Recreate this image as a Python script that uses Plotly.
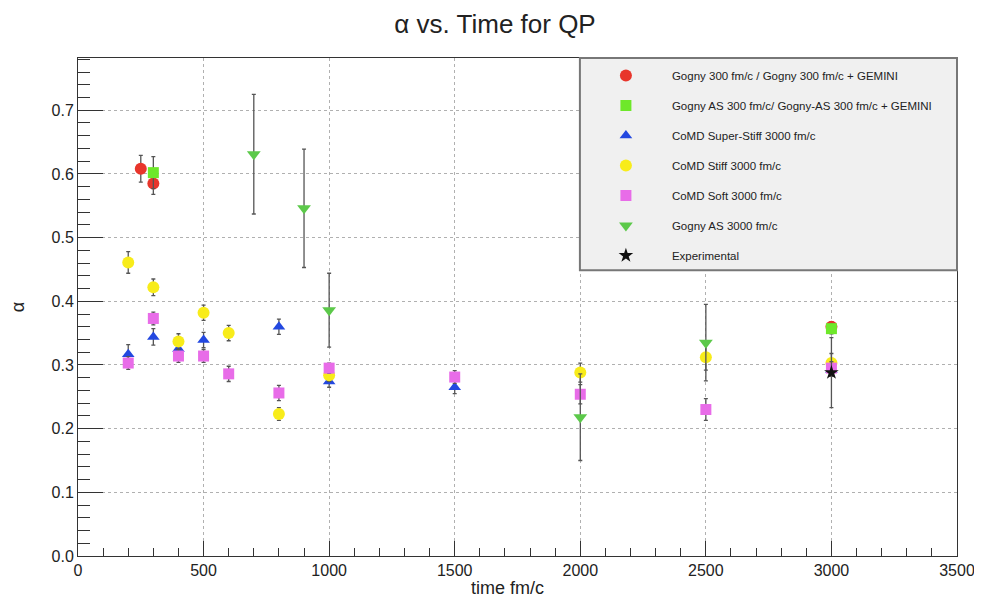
import plotly.graph_objects as go

# ---- data ----
red_name = "Gogny 300 fm/c / Gogny 300 fm/c + GEMINI"
red_x = [250, 300, 3000]
red_y = [0.608, 0.585, 0.360]
red_e = [0.021, 0.017, 0.008]

gsq_name = "Gogny AS 300 fm/c/ Gogny-AS 300 fm/c + GEMINI"
gsq_x = [300, 3000]
gsq_y = [0.602, 0.357]
gsq_e = [0.025, 0.008]

blue_name = "CoMD Super-Stiff 3000 fm/c"
blue_x = [200, 300, 400, 500, 800, 1000, 1500, 3000]
blue_y = [0.317, 0.344, 0.325, 0.339, 0.360, 0.274, 0.265, 0.292]
blue_e = [0.015, 0.013, 0.010, 0.012, 0.012, 0.009, 0.010, 0.010]

yel_name = "CoMD Stiff 3000 fm/c"
yel_x = [200, 300, 400, 500, 600, 800, 1000, 2000, 2500, 3000]
yel_y = [0.461, 0.422, 0.337, 0.382, 0.350, 0.223, 0.284, 0.288, 0.312, 0.303]
yel_e = [0.017, 0.013, 0.012, 0.012, 0.012, 0.010, 0.010, 0.015, 0.020, 0.015]

pink_name = "CoMD Soft 3000 fm/c"
pink_x = [200, 300, 400, 500, 600, 800, 1000, 1500, 2000, 2500, 3000]
pink_y = [0.303, 0.373, 0.314, 0.314, 0.286, 0.256, 0.295, 0.281, 0.254, 0.230, 0.295]
pink_e = [0.010, 0.010, 0.010, 0.010, 0.012, 0.012, 0.008, 0.010, 0.015, 0.017, 0.010]

gdn_name = "Gogny AS 3000 fm/c"
gdn_x = [700, 900, 1000, 2000, 2500]
gdn_y = [0.631, 0.546, 0.386, 0.218, 0.335]
gdn_e = [0.094, 0.093, 0.058, 0.068, 0.060]

exp_name = "Experimental"
exp_x = [3000]
exp_y = [0.288]
exp_e = [0.055]

title = "α vs. Time for QP"
x_title = "time fm/c"
y_title = "α"

series = [
    (red_name, red_x, red_y, red_e, "circle", "#e8352b", 12),
    (gsq_name, gsq_x, gsq_y, gsq_e, "square", "#6ee82a", 11),
    (blue_name, blue_x, blue_y, blue_e, "triangle-up", "#2348e0", 11),
    (yel_name, yel_x, yel_y, yel_e, "circle", "#f8ec1a", 12),
    (pink_name, pink_x, pink_y, pink_e, "square", "#e86ce8", 11),
    (gdn_name, gdn_x, gdn_y, gdn_e, "triangle-down", "#5cc94a", 12),
    (exp_name, exp_x, exp_y, exp_e, "star", "#111111", 11),
]

fig = go.Figure()
for i, (name, xs, ys, es, sym, col, sz) in enumerate(series):
    fig.add_trace(go.Scatter(
        x=xs, y=ys, mode="markers", name=name, legendgroup=f"g{i}",
        marker=dict(symbol=sym, color=col, size=sz, line=dict(width=0)),
        error_y=dict(type="data", array=es, visible=True, color="#555555",
                     thickness=1.3, width=2),
    ))

font_family = "Liberation Sans, Arial, sans-serif"

axis_common = dict(
    showline=True, linecolor="#333333", linewidth=1, mirror=True,
    showgrid=True, gridcolor="#b0b0b0", griddash="dot", gridwidth=1,
    zeroline=False, ticks="inside", tickcolor="#333333", automargin=False,
    tickfont=dict(family=font_family, size=16, color="#222222"),
)

# page body has an 8px margin, so the figure is sized 974x594
fig.update_layout(
    width=974, height=594,
    margin=dict(l=70, r=25, t=50, b=46, autoexpand=False),
    paper_bgcolor="white", plot_bgcolor="white",
    title=dict(text=title, x=0.5, xanchor="center", y=0.974, yanchor="middle",
               font=dict(family=font_family, size=26, color="#222222")),
    xaxis=dict(range=[0, 3500], dtick=500, tick0=0, ticklen=15,
               minor=dict(dtick=100, ticks="inside", ticklen=8, tickcolor="#333333", showgrid=False),
               **axis_common),
    yaxis=dict(range=[0, 0.782], dtick=0.1, tick0=0, ticklen=25, tickformat=".1f",
               minor=dict(dtick=0.02, ticks="inside", ticklen=12, tickcolor="#333333", showgrid=False),
               title=dict(text=y_title, standoff=30,
                          font=dict(family=font_family, size=18, color="#222222")),
               **axis_common),
    annotations=[dict(text=x_title, xref="paper", yref="paper", x=0.489, y=-0.064,
                      xanchor="center", yanchor="middle", showarrow=False,
                      font=dict(family=font_family, size=18, color="#222222"))],
    showlegend=True,
    legend=dict(x=0.571, xanchor="left", y=0.994, yanchor="top",
                bgcolor="rgba(0,0,0,0)", borderwidth=0,
                itemwidth=82, tracegroupgap=11, traceorder="grouped",
                font=dict(family=font_family, size=11.5, color="#222222")),
    shapes=[dict(type="rect", xref="paper", yref="paper",
                 x0=0.571, x1=1.0, y0=0.574, y1=1.0,
                 fillcolor="#f0f0f0", line=dict(color="#777777", width=2),
                 layer="above")],
)

fig.write_html("out.html")
